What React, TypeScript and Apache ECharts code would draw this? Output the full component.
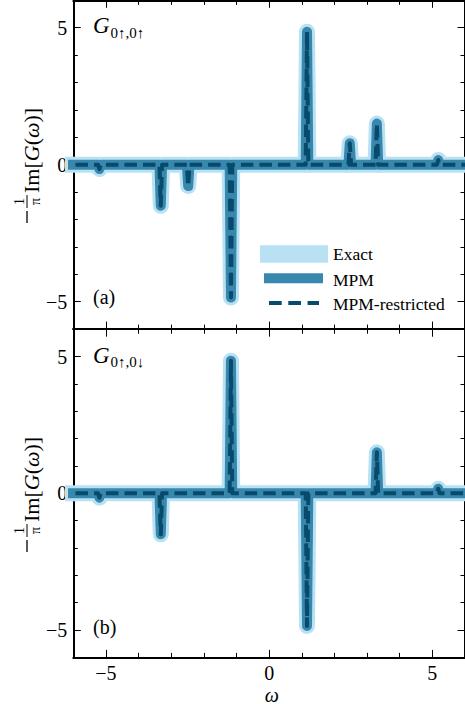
import React, { useEffect, useRef } from "react";
import * as echarts from "echarts";

// ---- data ----
const X_RANGE = [-6, 6];
const Y_RANGE = [-6, 6];
const MAJOR_TICKS = [-5, 0, 5];
const SERIES_NAMES = ["Exact", "MPM", "MPM-restricted"];

// peak positions (omega) and heights of -1/pi Im G for each panel
const panelAPositions = [-5.2, -3.32, -2.48, -1.17, 1.16, 2.47, 3.3, 5.18];
const panelAHeights = [-0.16, -1.5, -0.78, -4.85, 4.85, 0.78, 1.5, 0.17];
const panelBPositions = [-5.2, -3.32, -1.17, 1.16, 3.3, 5.18];
const panelBHeights = [-0.16, -1.5, 4.85, -4.85, 1.5, 0.17];

const PANEL_SUBSCRIPTS = ["0↑,0↑", "0↑,0↓"];
const PANEL_TAGS = ["(a)", "(b)"];

// ---- styles ----
const FONT = '"Liberation Serif", "DejaVu Serif", serif';
const C_EXACT = "#b8e2f3";
const C_MPM = "#3887ad";
const C_DASH = "#074a6c";
const SPIKE_HALF = 0.04;

function spikeData(pos: number[], h: number[]) {
  const pts: number[][] = [[X_RANGE[0] - 0.5, 0]];
  pos.forEach((p, i) => {
    pts.push([p - SPIKE_HALF, 0], [p, h[i]], [p + SPIKE_HALF, 0]);
  });
  pts.push([X_RANGE[1] + 0.5, 0]);
  return pts;
}

const GRIDS = [
  { left: 73.3, top: 0.3, width: 396.8, height: 328.8 },
  { left: 73.3, top: 329.2, width: 396.8, height: 328.2 },
];

const black = { color: "#000", width: 1 };
const spine = { show: true, onZero: false, lineStyle: { color: "#000", width: 2 } };
const fmt = (v: number) => String(v).replace("-", "\u2212");

function axesFor(kind: "x" | "y", gi: number, withLabels: boolean) {
  const range = kind === "x" ? X_RANGE : Y_RANGE;
  const sides = kind === "x" ? ["bottom", "top"] : ["left", "right"];
  const out: any[] = [];
  sides.forEach((side, si) => {
    out.push({
      type: "value",
      gridIndex: gi,
      position: side,
      min: range[0],
      max: range[1],
      interval: 1,
      axisLine: spine,
      axisTick: { show: true, inside: true, length: 4.5, lineStyle: black },
      axisLabel: { show: false },
      splitLine: { show: false },
      silent: true,
    });
    const showLab = withLabels && si === 0;
    out.push({
      type: "value",
      gridIndex: gi,
      position: side,
      min: range[0],
      max: range[1],
      axisLine: { show: false, onZero: false },
      axisTick: { show: true, inside: true, length: 7.5, lineStyle: black, customValues: MAJOR_TICKS },
      axisLabel: showLab
        ? {
            show: true,
            customValues: MAJOR_TICKS,
            formatter: fmt,
            fontFamily: FONT,
            fontSize: 20,
            color: "#000",
            margin: 6,
          }
        : { show: false },
      splitLine: { show: false },
      silent: true,
    });
  });
  return out;
}

function seriesFor(gi: number, data: number[][]) {
  const axisIdx = gi * 4;
  const base = {
    type: "line",
    xAxisIndex: axisIdx,
    yAxisIndex: axisIdx,
    data,
    showSymbol: false,
    symbol: "none",
    silent: true,
    clip: true,
    emphasis: { disabled: true },
  };
  return [
    { ...base, name: SERIES_NAMES[0], lineStyle: { color: C_EXACT, width: 16, join: "round", cap: "round" } },
    { ...base, name: SERIES_NAMES[1], lineStyle: { color: C_MPM, width: 10, join: "round", cap: "round" } },
    {
      ...base,
      name: SERIES_NAMES[2],
      lineStyle: { color: C_DASH, width: 4, join: "round", cap: "butt", type: [12.5, 6] },
    },
  ];
}

function yLabel(y0: number) {
  const mAxis = -1;
  return {
    type: "group",
    x: 28,
    y: y0,
    rotation: Math.PI / 2,
    silent: true,
    children: [
      { type: "line", shape: { x1: 0, y1: mAxis, x2: 12, y2: mAxis }, style: { stroke: "#000", lineWidth: 1.3 } },
      { type: "line", shape: { x1: 15, y1: mAxis, x2: 28, y2: mAxis }, style: { stroke: "#000", lineWidth: 1 } },
      {
        type: "text",
        x: 21.5,
        y: mAxis - 8,
        style: { text: "1", font: `14px ${FONT}`, fill: "#000", align: "center", verticalAlign: "middle", textAlign: "center", textVerticalAlign: "middle" },
      },
      {
        type: "text",
        x: 21.5,
        y: mAxis + 8,
        style: { text: "π", font: `14px ${FONT}`, fill: "#000", align: "center", verticalAlign: "middle", textAlign: "center", textVerticalAlign: "middle" },
      },
      {
        type: "text",
        x: 30,
        y: 3,
        style: {
          text: "{r|Im[}{i|G}{r|(}{i|ω}{r|)]}",
          fill: "#000",
          align: "left",
          verticalAlign: "middle",
          textAlign: "left",
          textVerticalAlign: "middle",
          rich: {
            r: { fontFamily: FONT, fontSize: 22, fill: "#000" },
            i: { fontFamily: FONT, fontSize: 22, fontStyle: "italic", fill: "#000" },
          },
        },
      },
    ],
  };
}

function txt(x: number, y: number, text: string, size: number, italic = false, align = "left") {
  return {
    type: "text",
    x,
    y,
    silent: true,
    style: {
      text,
      fill: "#000",
      fontFamily: FONT,
      fontSize: size,
      fontStyle: italic ? "italic" : "normal",
      align,
      verticalAlign: "middle",
      textAlign: align,
      textVerticalAlign: "middle",
    },
  };
}

export default function App() {
  const ref = useRef<HTMLDivElement>(null);
  useEffect(() => {
    if (!ref.current) return;
    const chart = echarts.init(ref.current, null, { renderer: "svg" });
    const xAxis = [...axesFor("x", 0, false), ...axesFor("x", 1, true)];
    const yAxis = [...axesFor("y", 0, true), ...axesFor("y", 1, true)];
    const series = [
      ...seriesFor(0, spikeData(panelAPositions, panelAHeights)),
      ...seriesFor(1, spikeData(panelBPositions, panelBHeights)),
    ];
    const graphic: any[] = [
      // panel titles
      txt(93, 25, "G", 23, true),
      txt(110.5, 33, PANEL_SUBSCRIPTS[0], 15),
      txt(93, 355, "G", 23, true),
      txt(110.5, 362, PANEL_SUBSCRIPTS[1], 15),
      // panel tags
      txt(93, 297, PANEL_TAGS[0], 20),
      txt(93, 627, PANEL_TAGS[1], 20),
      // x label
      txt(271.7, 694.5, "ω", 20, true, "center"),
      // y labels
      yLabel(223),
      yLabel(552),
      // legend
      { type: "rect", silent: true, shape: { x: 260, y: 245.2, width: 68, height: 17.5 }, style: { fill: C_EXACT } },
      { type: "rect", silent: true, shape: { x: 264, y: 273.3, width: 59, height: 10 }, style: { fill: C_MPM } },
      {
        type: "line",
        silent: true,
        shape: { x1: 269, y1: 303, x2: 319, y2: 303 },
        style: { stroke: C_DASH, lineWidth: 4, lineDash: [12.7, 6.6] },
      },
      txt(333, 254, SERIES_NAMES[0], 17.5),
      txt(333, 279.5, SERIES_NAMES[1], 17.5),
      txt(333, 303.5, SERIES_NAMES[2], 17.5),
    ];
    chart.setOption({
      animation: false,
      backgroundColor: "#fff",
      grid: GRIDS,
      xAxis,
      yAxis,
      series,
      graphic,
    });
    return () => chart.dispose();
  }, []);
  return (
    <div
      ref={ref}
      style={{ position: "fixed", left: 0, top: 0, width: 465, height: 704, background: "#fff" }}
    />
  );
}
